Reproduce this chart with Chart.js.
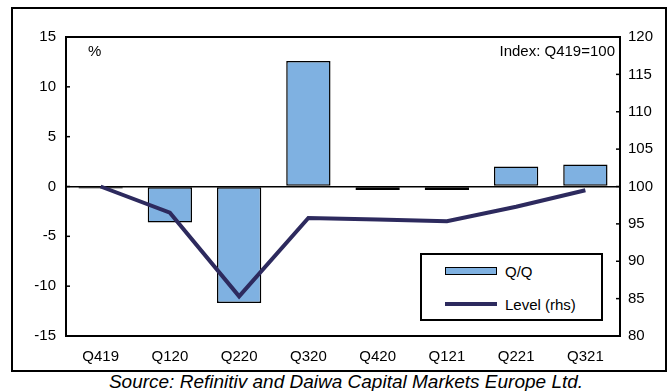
<!DOCTYPE html>
<html lang="en">
<head>
    <meta charset="UTF-8">
    <title>Q/Q and Level</title>
    <script src="https://cdn.jsdelivr.net/npm/chart.js@4.4.0/dist/chart.umd.min.js"></script>
    <style>
        body { margin: 0; background: #fff; font-family: "Liberation Sans", Arial, sans-serif; }
        .frame { position: absolute; left: 11px; top: 7px; width: 652px; height: 361px; border: 2px solid #000; }
        .chart-box { position: relative; width: 652px; height: 361px; }
        .legend { position: absolute; left: 420px; top: 253px; width: 179px; height: 64px; border: 2px solid #000; background: #fff; }
        .legend-item { position: absolute; left: 23px; height: 16px; display: flex; align-items: center; font-size: 15px; }
        .legend-item .swatch { width: 52px; margin-right: 8px; box-sizing: border-box; }
        .source { position: absolute; left: 0; top: 371px; width: 692px; text-align: center; font-size: 19px; font-style: italic; }
    </style>
</head>
<body>
    <div class="frame">
        <div class="chart-box">
            <canvas id="levelChart"></canvas>
        </div>
    </div>
    <div class="legend" id="legend"></div>
    <div class="source">Source: Refinitiv and Daiwa Capital Markets Europe Ltd.</div>

    <script>
        // data
        const quarters = ['Q419', 'Q120', 'Q220', 'Q320', 'Q420', 'Q121', 'Q221', 'Q321'];
        const qoqChange = [-0.2, -3.6, -11.7, 12.6, -0.35, -0.35, 2.0, 2.2];
        const levelIndex = [100, 96.5, 85.3, 95.8, 95.6, 95.35, 97.3, 99.5];

        const barColor = '#7fb1e1';
        const lineColor = '#2d2a5e';
        const font = { family: '"Liberation Sans", Arial, sans-serif', size: 15 };

        // box around the plot, inner tick marks and the two small captions
        const frameAndTicks = {
            id: 'frameAndTicks',
            afterDraw(chart) {
                const ctx = chart.ctx;
                const area = chart.chartArea;
                ctx.save();
                ctx.strokeStyle = '#000';
                ctx.lineWidth = 2;
                ctx.strokeRect(area.left, area.top, area.right - area.left, area.bottom - area.top);

                ctx.lineWidth = 1.5;
                chart.scales.y.ticks.forEach(t => {
                    const y = chart.scales.y.getPixelForValue(t.value);
                    ctx.beginPath();
                    ctx.moveTo(area.left, y);
                    ctx.lineTo(area.left + 4, y);
                    ctx.stroke();
                });
                chart.scales.y2.ticks.forEach(t => {
                    const y = chart.scales.y2.getPixelForValue(t.value);
                    ctx.beginPath();
                    ctx.moveTo(area.right, y);
                    ctx.lineTo(area.right - 4, y);
                    ctx.stroke();
                });

                ctx.fillStyle = '#000';
                ctx.font = '15px "Liberation Sans", Arial, sans-serif';
                ctx.textBaseline = 'middle';
                ctx.textAlign = 'left';
                ctx.fillText('%', area.left + 22, area.top + 15);
                ctx.textAlign = 'right';
                ctx.fillText('Index: Q419=100', area.right - 5, area.top + 15);
                ctx.restore();
            }
        };

        const ctx = document.getElementById('levelChart').getContext('2d');
        const levelChart = new Chart(ctx, {
            type: 'bar',
            data: {
                labels: quarters,
                datasets: [{
                    type: 'bar',
                    label: 'Q/Q',
                    data: qoqChange,
                    yAxisID: 'y',
                    backgroundColor: barColor,
                    borderColor: '#000',
                    borderWidth: 1.5,
                    borderSkipped: false,
                    barPercentage: 0.64,
                    categoryPercentage: 1,
                    order: 2
                }, {
                    type: 'line',
                    label: 'Level (rhs)',
                    data: levelIndex,
                    yAxisID: 'y2',
                    borderColor: lineColor,
                    borderWidth: 4,
                    pointRadius: 0,
                    tension: 0,
                    fill: false,
                    order: 1
                }]
            },
            options: {
                responsive: true,
                maintainAspectRatio: false,
                animation: false,
                layout: { padding: { top: 28, left: 0, right: 0, bottom: 0 } },
                plugins: {
                    legend: { display: false },
                    tooltip: { enabled: false }
                },
                scales: {
                    x: {
                        grid: { display: false },
                        border: { display: false },
                        ticks: { color: '#000', font: font, padding: 4, maxRotation: 0 },
                        afterFit(scale) { scale.height = 34; }
                    },
                    y: {
                        position: 'left',
                        min: -15,
                        max: 15,
                        ticks: { stepSize: 5, color: '#000', font: font, padding: 10 },
                        grid: {
                            drawTicks: false,
                            lineWidth: 1.5,
                            color: c => c.tick && c.tick.value === 0 ? '#000' : 'rgba(0,0,0,0)'
                        },
                        border: { display: false },
                        afterFit(scale) { scale.width = 53; }
                    },
                    y2: {
                        position: 'right',
                        min: 80,
                        max: 120,
                        ticks: { stepSize: 5, color: '#000', font: font, padding: 8 },
                        grid: { drawOnChartArea: false, drawTicks: false },
                        border: { display: false },
                        afterFit(scale) { scale.width = 45; }
                    }
                }
            },
            plugins: [frameAndTicks]
        });

        // legend box built from the dataset labels
        const legend = document.getElementById('legend');
        levelChart.data.datasets.forEach((ds, i) => {
            const item = document.createElement('div');
            item.className = 'legend-item';
            item.style.top = (i === 0 ? 8 : 41) + 'px';
            const sw = document.createElement('span');
            sw.className = 'swatch';
            if (ds.type === 'bar') {
                sw.style.height = '8px';
                sw.style.background = ds.backgroundColor;
                sw.style.border = '1.5px solid #000';
            } else {
                sw.style.height = '4px';
                sw.style.background = ds.borderColor;
            }
            item.appendChild(sw);
            item.appendChild(document.createTextNode(ds.label));
            legend.appendChild(item);
        });
    </script>
</body>
</html>
